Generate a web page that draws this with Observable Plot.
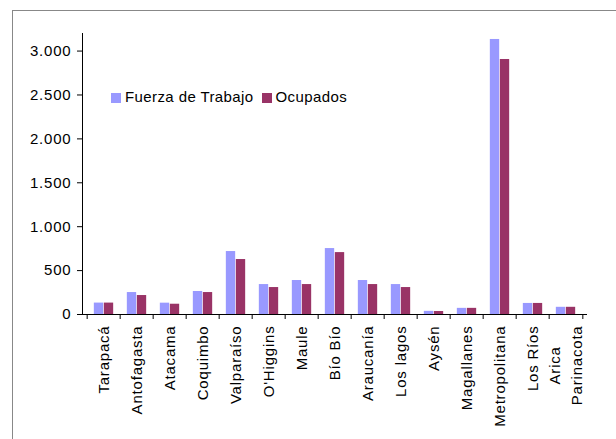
<!DOCTYPE html>
<html>
<head>
<meta charset="utf-8">
<script src="https://cdn.jsdelivr.net/npm/d3@7"></script>
<script src="https://cdn.jsdelivr.net/npm/@observablehq/plot@0.6"></script>
<style>
  html, body { margin: 0; padding: 0; background: #fff; }
  #wrap { position: relative; width: 616px; height: 439px; overflow: hidden; background: #fff; }
  #border { position: absolute; left: 12px; top: 10px; width: 640px; height: 460px; border: 1px solid #888; box-sizing: border-box; }
  #chart { position: absolute; left: 0; top: 0; }
  #chart svg text { letter-spacing: 0.8px; }
  #legend { position: absolute; left: 111px; top: 88px; font-family: "Liberation Sans", Arial, sans-serif; font-size: 15px; letter-spacing: 0.4px; display: flex; align-items: center; white-space: nowrap; color: #000; }
  #legend .sw { display: inline-block; width: 10px; height: 10px; margin-right: 4px; margin-top: 3px; }
  #legend .item { display: flex; align-items: center; margin-right: 8px; }
</style>
</head>
<body>
<div id="wrap">
  <div id="border"></div>
  <div id="chart"></div>
  <div id="legend"></div>
</div>
<script>
// ---- data ----
const regions = ["Tarapacá", "Antofagasta", "Atacama", "Coquimbo", "Valparaíso", "O'Higgins", "Maule", "Bío Bío", "Araucanía", "Los lagos", "Aysén", "Magallanes", "Metropolitana", "Los Ríos", "Arica Parinacota"];
const tickLabels = ["Tarapacá", "Antofagasta", "Atacama", "Coquimbo", "Valparaíso", "O'Higgins", "Maule", "Bío Bío", "Araucanía", "Los lagos", "Aysén", "Magallanes", "Metropolitana", "Los Ríos", "Arica\nParinacota"];
const fuerzaDeTrabajo = [130, 250, 129, 262, 717, 341, 387, 751, 387, 341, 36, 70, 3132, 126, 82];
const ocupados = [130, 216, 117, 250, 626, 307, 341, 705, 341, 307, 34, 70, 2904, 126, 82];
const yTicks = [0, 500, 1000, 1500, 2000, 2500, 3000];
const seriesNames = ["Fuerza de Trabajo", "Ocupados"];
const seriesColors = ["#9999FF", "#993366"];

// ---- layout ----
const W = 616, H = 439;
const mL = 82, mR = 29, mT = 33, mB = 125;
const bw = (W - mL - mR) / regions.length;
const barW = 10;
const outer = (bw - 2 * barW) / 2;

const rows = regions.map((r, i) => ({region: r, fuerza: fuerzaDeTrabajo[i], ocupados: ocupados[i], label: tickLabels[i]}));
const single = rows.filter(d => !d.label.includes("\n"));
const multi = rows.filter(d => d.label.includes("\n"));

const fontFamily = '"Liberation Sans", Arial, sans-serif';
const fontSize = 15;
const ls = 0.8;
const ctx = document.createElement("canvas").getContext("2d");
ctx.font = `${fontSize}px ${fontFamily}`;
const measure = s => ctx.measureText(s).width + s.length * ls;

const fmt = d => d3.format(",")(d).replace(/,/g, ".");

const labelOffset = 11;
const lineGap = 22;

const multiMarks = [];
for (const d of multi) {
  const lines = d.label.split("\n");
  const maxW = d3.max(lines, measure);
  lines.forEach((line, i) => {
    multiMarks.push(Plot.text([d], {
      x: "region", y: () => 0, text: () => line,
      rotate: -90, textAnchor: "middle",
      dx: (i - (lines.length - 1) / 2) * lineGap,
      dy: labelOffset + maxW / 2
    }));
  });
}

const chart = Plot.plot({
  width: W, height: H,
  marginLeft: mL, marginRight: mR, marginTop: mT, marginBottom: mB,
  style: {fontFamily, fontSize: fontSize + "px", color: "#000", background: "transparent", overflow: "visible"},
  x: {domain: regions, padding: 0, axis: null},
  y: {domain: [0, 3200]},
  marks: [
    Plot.barY(rows, {x: "region", y: "fuerza", fill: seriesColors[0], insetLeft: outer, insetRight: outer + barW}),
    Plot.barY(rows, {x: "region", y: "ocupados", fill: seriesColors[1], insetLeft: outer + barW, insetRight: outer}),
    Plot.frame({anchor: "left", stroke: "#000"}),
    Plot.ruleY([0], {stroke: "#000"}),
    Plot.ruleX(regions, {x: d => d, y1: () => 0, y2: () => 0, insetBottom: -5, dx: -bw / 2, stroke: "#000"}),
    Plot.ruleX(regions.slice(-1), {x: d => d, y1: () => 0, y2: () => 0, insetBottom: -5, dx: bw / 2, stroke: "#000"}),
    Plot.axisY({ticks: yTicks, tickFormat: fmt, tickSize: 5, tickPadding: 6, label: null, fontSize: fontSize}),
    Plot.text(single, {x: "region", y: () => 0, text: "label", rotate: -90, textAnchor: "end", dy: labelOffset}),
    ...multiMarks
  ]
});
document.getElementById("chart").appendChild(chart);

// legend
const legend = document.getElementById("legend");
seriesNames.forEach((name, i) => {
  const item = document.createElement("span");
  item.className = "item";
  const sw = document.createElement("span");
  sw.className = "sw";
  sw.style.background = seriesColors[i];
  item.appendChild(sw);
  item.appendChild(document.createTextNode(name));
  legend.appendChild(item);
});
</script>
</body>
</html>
